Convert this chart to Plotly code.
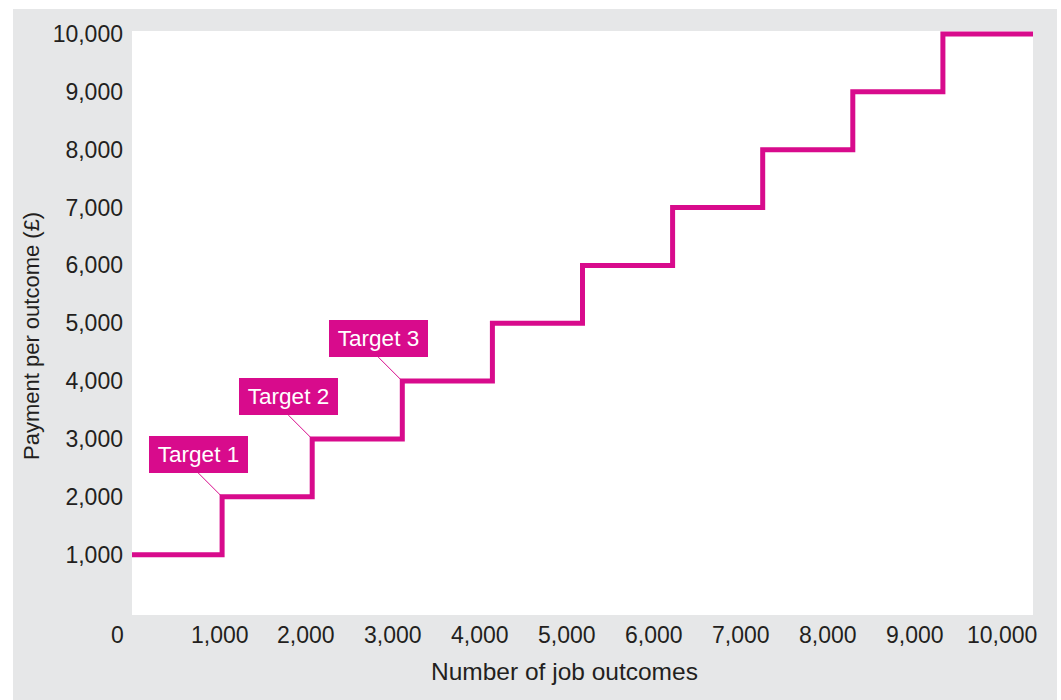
import plotly.graph_objects as go

# Step schedule: payment per outcome rises by £1,000 every 1,000 job outcomes
outcome_steps = [0, 1000, 2000, 3000, 4000, 5000, 6000, 7000, 8000, 9000, 10000]
payment_levels = [1000, 2000, 3000, 4000, 5000, 6000, 7000, 8000, 9000, 10000, 10000]

x_tick_values = [0, 1000, 2000, 3000, 4000, 5000, 6000, 7000, 8000, 9000, 10000]
x_tick_labels = ["0", "1,000", "2,000", "3,000", "4,000", "5,000",
                 "6,000", "7,000", "8,000", "9,000", "10,000"]
y_tick_values = [1000, 2000, 3000, 4000, 5000, 6000, 7000, 8000, 9000, 10000]

target_names = ["Target 1", "Target 2", "Target 3"]
target_outcomes = [1000, 2000, 3000]
target_payments = [2000, 3000, 4000]

MAGENTA = "#d80b8c"
PANEL = "#e6e7e8"
INK = "#231f20"
FONT = "Liberation Sans"

fig = go.Figure()
fig.add_trace(go.Scatter(
    x=outcome_steps, y=payment_levels, mode="lines",
    line=dict(color=MAGENTA, width=5, shape="hv"),
    hoverinfo="skip", showlegend=False,
))

annotations = []

# x tick labels sit slightly left of their tick, drifting a little further per step
for k, (val, lab) in enumerate(zip(x_tick_values, x_tick_labels)):
    shift = -15 if k == 0 else 0.6 - 3.2 * k
    annotations.append(dict(
        x=val, xref="x", y=-0.034, yref="paper", text=lab, showarrow=False,
        xanchor="center", yanchor="middle", xshift=shift,
        font=dict(family=FONT, size=23, color=INK),
    ))

# axis titles
annotations.append(dict(
    x=0.48, xref="paper", y=-0.0976, yref="paper", text="Number of job outcomes",
    showarrow=False, xanchor="center", yanchor="middle",
    font=dict(family=FONT, size=24.5, color=INK),
))
annotations.append(dict(
    x=-0.1121, xref="paper", y=0.4777, yref="paper", text="Payment per outcome (£)",
    showarrow=False, xanchor="center", yanchor="middle", textangle=-90,
    font=dict(family=FONT, size=22, color=INK),
))

# target call-outs with thin leader lines to the step corners
for name, tx, ty in zip(target_names, target_outcomes, target_payments):
    annotations.append(dict(
        x=tx, y=ty, xref="x", yref="y", text=name,
        showarrow=True, arrowhead=0, arrowwidth=1, arrowcolor=MAGENTA,
        ax=-24, ay=-24, standoff=2,
        xanchor="center", yanchor="bottom",
        bgcolor=MAGENTA, borderpad=0, borderwidth=0,
        width=99, height=37, align="center", valign="middle",
        font=dict(family=FONT, size=22.5, color="white"),
    ))

fig.update_layout(
    width=1061, height=700,
    margin=dict(l=132, r=28, t=31, b=85),
    paper_bgcolor="white", plot_bgcolor="white",
    font=dict(family=FONT, size=23, color=INK),
    showlegend=False,
    annotations=annotations,
    shapes=[
        # grey panel behind the chart
        dict(type="rect", xref="paper", yref="paper", layer="below",
             x0=-0.1321, x1=1.0266, y0=-0.16, y1=1.0377,
             fillcolor=PANEL, line=dict(width=0)),
        # white plotting area
        dict(type="rect", xref="paper", yref="paper", layer="below",
             x0=0, x1=1, y0=0, y1=1,
             fillcolor="white", line=dict(width=0)),
    ],
    xaxis=dict(
        range=[0, 10000], showgrid=False, zeroline=False, showline=False,
        showticklabels=False, ticks="", fixedrange=True,
    ),
    yaxis=dict(
        range=[-43, 10052], showgrid=False, zeroline=False, showline=False,
        tickvals=y_tick_values, tickformat=",", ticks="",
        ticklabelstandoff=8, fixedrange=True,
        tickfont=dict(family=FONT, size=23, color=INK),
    ),
)

fig.write_html("out.html")
